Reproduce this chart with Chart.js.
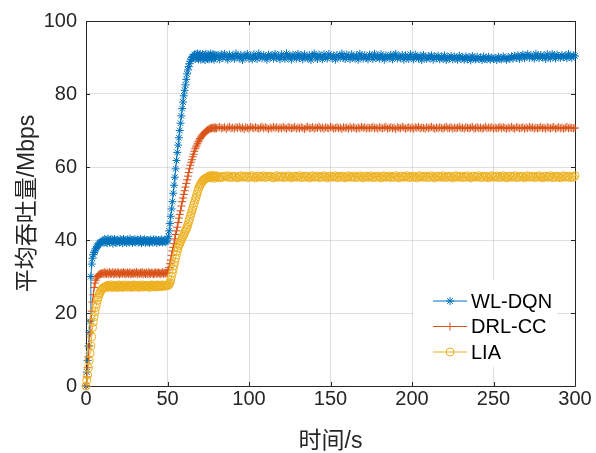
<!DOCTYPE html>
<html>
<head>
<meta charset="utf-8">
<script src="https://cdn.jsdelivr.net/npm/chart.js@4.4.1/dist/chart.umd.min.js"></script>
<style>
html,body{margin:0;padding:0;background:#fff;}
canvas{display:block;}
</style>
</head>
<body>
<canvas id="c" width="596" height="453"></canvas>
<script>
// ---- data ----
// early part: t = 0 .. 80 s, one sample every 0.5 s
// late part:  t = 81 .. 300 s, one sample every 1 s
const earlyStart = 0, earlyStep = 0.5;
const lateStart = 81, lateStep = 1;
const seriesNames = ['WL-DQN', 'DRL-CC', 'LIA'];
const xTickValues = [0, 50, 100, 150, 200, 250, 300];
const yTickValues = [0, 20, 40, 60, 80, 100];

const wlDqnEarly = [
0, 3.8, 7, 10.9, 14.7, 17.7, 30, 33.4, 35, 36, 36.6, 37, 37.6, 38, 38.3, 38.6, 39, 39.2, 39.4, 39.5, 39.6,
39.9, 39.2, 40.3, 39.5, 40.0, 39.1, 40.4, 39.7, 39.3, 40.1,
39.6, 40.2, 39.0, 39.8, 40.3, 39.4, 39.9, 39.2, 40.1, 39.7,
39.3, 40.2, 39.6, 39.9, 39.1, 40.3, 39.5, 39.8, 40.0, 39.2,
40.1, 39.6, 39.3, 40.4, 39.7, 39.9, 39.2, 40.0, 39.5, 40.2,
39.4, 39.8, 40.1, 39.3, 39.9, 39.6, 40.3, 39.1, 39.7, 40.0,
39.5, 40.2, 39.3, 39.8, 40.0, 39.4, 39.9, 39.2, 40.1, 39.6,
39.8, 39.3, 40.2, 39.5, 39.9, 40.1, 39.2, 39.7, 40.0, 39.4,
39.9, 39.5, 40.2, 39.3, 39.8, 39.6, 40.1, 39.4, 39.7, 40.0,
41, 42.5, 44.5, 46.5, 48.5, 50.5, 52.8, 55, 57.2, 59.5,
61.8, 64, 66, 68, 70, 72, 74, 76, 77.8, 79.5,
81, 82.5, 84, 85.5, 86.6, 87.5, 88.3, 89, 89.5, 90,
90.2, 90.3,
90.8, 89.6, 90.9, 89.9, 91.1, 89.5, 90.4, 91.0, 89.4, 90.3,
90.9, 89.8, 90.6, 89.3, 91.0, 90.1, 89.7, 90.8, 89.5, 90.5,
91.1, 89.6, 90.2, 90.9, 89.4, 90.7, 89.9, 90.5
];
const wlDqnLate = [
90.6, 89.5, 90.9, 89.9, 91.0, 90.2, 89.4, 90.8, 90.0, 90.5,
89.6, 91.1, 90.3, 89.8, 90.7, 89.3, 90.6, 90.1, 91.0, 89.7,
90.4, 89.5, 90.9, 90.0, 89.6, 91.1, 90.3, 89.8, 90.7, 90.2,
89.4, 90.8, 90.1, 90.6, 89.7, 91.0, 89.9, 90.4, 89.5, 90.9,
90.2, 89.6, 91.1, 90.0, 90.5, 89.4, 90.8, 90.3, 89.7, 91.0,
89.9, 90.6, 89.5, 90.9, 90.1, 89.8, 90.7, 89.3, 90.5, 91.1,
90.0, 89.6, 90.8, 90.3, 89.5, 90.9, 90.1, 89.7, 91.0, 90.4,
89.8, 90.6, 89.4, 90.7, 90.2, 89.9, 91.1, 90.0, 89.6, 90.8,
90.3, 89.5, 90.9, 90.1, 89.8, 90.6, 89.4, 91.0, 90.2, 89.7,
90.7, 90.0, 89.5, 90.8, 90.3, 89.6, 91.0, 89.9, 90.4, 89.7,
90.9, 90.1, 89.4, 90.6, 90.2, 89.8, 90.8, 89.5, 90.5, 91.0,
89.7, 90.3, 89.9, 90.7, 89.4, 90.6, 90.0, 89.6, 90.9, 90.2,
89.5, 90.8, 90.1, 89.7, 90.5, 89.3, 90.7, 90.0, 89.6, 90.4,
89.8, 90.6, 89.4, 90.3, 89.9, 90.5, 89.5, 90.2, 89.7, 90.6,
89.3, 90.1, 89.8, 90.4, 89.5, 90.2, 89.9, 89.4, 90.5, 89.7,
90.0, 89.4, 90.3, 89.6, 90.1, 89.2, 90.4, 89.8, 89.5, 90.2,
89.6, 90.0, 89.3, 90.3, 89.7, 89.5, 90.2, 89.4, 90.0, 89.6,
89.9, 89.3, 90.2, 89.7, 89.5, 90.3, 89.8, 89.4, 90.1, 89.6,
90.3, 89.7, 90.5, 89.9, 90.6, 89.6, 90.4, 90.8, 89.8, 90.5,
90.9, 89.9, 90.6, 90.2, 89.7, 91.0, 90.3, 89.8, 90.7, 90.1,
90.5, 89.6, 90.9, 90.2, 89.8, 91.0, 90.4, 89.7, 90.8, 90.3,
89.9, 90.7, 90.1, 90.5, 89.8, 91.0, 90.3, 89.9, 90.6, 90.4
];

const drlCcEarly = [
0, 2.5, 5, 8, 11, 14.5, 18, 20.5, 23, 25, 27, 28.2, 29, 29.6, 30, 30.3, 30.5, 30.7, 30.8, 30.7, 30.9,
31.0, 30.6, 31.2, 30.8, 30.7, 31.1, 30.9, 30.6, 31.2, 30.8,
30.7, 31.0, 31.2, 30.6, 30.9, 31.1, 30.7, 30.8, 31.2, 30.9,
30.6, 31.0, 30.8, 31.1, 30.7, 31.2, 30.9, 30.6, 31.0, 30.8,
31.1, 30.7, 30.9, 31.2, 30.6, 30.8, 31.0, 30.7, 31.1, 30.9,
30.8, 31.2, 30.6, 31.0, 30.9, 30.7, 31.1, 30.8, 31.2, 30.6,
30.9, 31.0, 30.7, 31.1, 30.8, 30.6, 31.2, 30.9, 30.7, 31.0,
31.1, 30.8, 30.6, 30.9, 31.2, 30.7, 31.0, 30.8, 31.1, 30.9,
30.6, 31.0, 30.8, 31.2, 30.7, 30.9, 31.1, 30.8, 31.0, 31.1,
31.8, 32.5, 33.5, 34.5, 35.8, 37, 38, 39, 40.3, 41.5,
42.5, 43.5, 44.8, 46, 47, 48, 49.3, 50.5, 51.5, 52.5,
53.5, 54.5, 55.5, 56.5, 57.5, 58.5, 59.5, 60.5, 61.3, 62,
62.8, 63.5, 64.3, 65, 65.5, 66, 66.5, 67, 67.4, 67.8,
68.2, 68.5, 68.8, 69, 69.3, 69.5, 69.7, 69.9, 70.1, 70.2,
70.4, 70.5, 70.6, 70.6, 70.7, 70.7,
70.9, 70.5, 70.8, 70.6
];
const drlCcLate = [
70.8, 71.0, 70.6, 70.7, 70.9, 70.4, 70.8, 71.0,
70.6, 70.8, 70.5, 70.9, 70.7, 71.0, 70.6, 70.8, 70.4, 70.9,
70.7, 70.5, 71.0, 70.8, 70.6, 70.9, 70.7, 70.5, 70.8, 71.0,
70.6, 70.9, 70.7, 70.4, 70.8, 70.6, 71.0, 70.7, 70.9, 70.5,
70.8, 70.6, 71.0, 70.7, 70.5, 70.9, 70.8, 70.6, 70.7, 71.0,
70.5, 70.8, 70.6, 70.9, 70.7, 70.4, 70.8, 71.0, 70.6, 70.7,
70.9, 70.5, 70.8, 70.7, 71.0, 70.6, 70.8, 70.5, 70.9, 70.7,
70.6, 71.0, 70.8, 70.5, 70.7, 70.9, 70.6, 70.8, 70.4, 70.9,
70.7, 70.8, 70.5, 71.0, 70.6, 70.9, 70.7, 70.5, 70.8, 70.6,
71.0, 70.7, 70.9, 70.5, 70.8, 70.6, 70.7, 71.0, 70.6, 70.8,
70.5, 70.9, 70.7, 70.6, 70.8, 71.0, 70.5, 70.7, 70.9, 70.6,
70.8, 70.4, 70.9, 70.7, 70.6, 71.0, 70.8, 70.5, 70.7, 70.9,
70.6, 70.8, 70.5, 70.9, 70.7, 71.0, 70.6, 70.8, 70.7, 70.5,
70.9, 70.6, 70.8, 71.0, 70.7, 70.5, 70.8, 70.6, 70.9, 70.7,
70.5, 70.8, 71.0, 70.6, 70.7, 70.9, 70.5, 70.8, 70.6, 70.7,
71.0, 70.6, 70.8, 70.5, 70.9, 70.7, 70.6, 70.8, 71.0, 70.5,
70.7, 70.9, 70.6, 70.8, 70.5, 70.7, 71.0, 70.6, 70.8, 70.7,
70.9, 70.5, 70.8, 70.6, 70.7, 71.0, 70.6, 70.9, 70.7, 70.5,
70.8, 70.6, 71.0, 70.7, 70.5, 70.9, 70.8, 70.6, 70.7, 70.9,
70.5, 70.8, 70.6, 71.0, 70.7, 70.9, 70.5, 70.8, 70.6, 70.7,
71.0, 70.6, 70.8, 70.5, 70.9, 70.7, 70.6, 70.8, 71.0, 70.5,
70.7, 70.9, 70.6, 70.8, 70.5, 70.7, 71.0, 70.6, 70.8, 70.7,
70.6, 70.7
];

const liaEarly = [
0, 1.5, 3, 5, 7, 9, 11, 13.5, 16, 17.5, 19, 20.3, 21.5, 22.5, 23.5, 24.3, 25, 25.5, 26, 26.3,
26.6, 26.8, 27, 27.1, 27.2,
27.4, 27.0, 27.6, 27.2, 27.5, 27.1, 27.7, 27.3, 27.0, 27.5,
27.2, 27.6, 27.3, 27.0, 27.4, 27.7, 27.1, 27.5, 27.3, 27.6,
27.0, 27.4, 27.2, 27.7, 27.3, 27.1, 27.5, 27.6, 27.2, 27.4,
27.0, 27.5, 27.3, 27.7, 27.1, 27.4, 27.6, 27.2, 27.5, 27.3,
27.0, 27.6, 27.4, 27.2, 27.7, 27.3, 27.1, 27.5, 27.4, 27.6,
27.2, 27.5, 27.3, 27.0, 27.6, 27.4, 27.7, 27.2, 27.5, 27.3,
27.1, 27.6, 27.4, 27.7, 27.3, 27.5, 27.2, 27.6, 27.4, 27.7,
27.3, 27.5, 27.6, 27.4, 27.7, 27.5, 27.6, 27.8,
28.3, 29, 30, 31, 32, 33, 34, 35, 36, 37,
37.8, 38.5, 39, 39.5, 40, 40.5, 41, 41.5, 42, 42.5,
43, 43.5, 44.2, 45, 45.7, 46.5, 47.2, 48, 48.7, 49.5,
50.2, 51, 51.7, 52.5, 53.3, 54, 54.5, 55, 55.4, 55.8,
56.1, 56.4, 56.6, 56.8, 56.9, 57, 57.1, 57.2,
57.5, 57.0, 57.6, 57.2, 57.7, 57.3, 56.9, 57.5, 57.2, 57.6
];
const liaLate = [
57.3, 57.0, 57.4, 57.2, 57.5,
57.3, 57.6, 57.1, 57.4, 57.2, 57.5, 57.3, 57.0, 57.4, 57.6,
57.2, 57.3, 57.5, 57.1, 57.4, 57.2, 57.6, 57.3, 57.0, 57.4,
57.5, 57.2, 57.3, 57.6, 57.1, 57.4, 57.3, 57.5, 57.2, 57.0,
57.4, 57.6, 57.2, 57.3, 57.5, 57.1, 57.4, 57.2, 57.6, 57.3,
57.0, 57.4, 57.5, 57.2, 57.3, 57.6, 57.1, 57.4, 57.2, 57.5,
57.3, 57.0, 57.4, 57.6, 57.2, 57.3, 57.5, 57.1, 57.4, 57.2,
57.6, 57.3, 57.0, 57.4, 57.5, 57.2, 57.3, 57.6, 57.1, 57.4,
57.2, 57.5, 57.3, 57.0, 57.4, 57.6, 57.2, 57.3, 57.5, 57.1,
57.4, 57.2, 57.6, 57.3, 57.0, 57.4, 57.5, 57.2, 57.3, 57.6,
57.1, 57.4, 57.2, 57.5, 57.3, 57.0, 57.4, 57.6, 57.2, 57.3,
57.5, 57.1, 57.4, 57.2, 57.6, 57.3, 57.0, 57.4, 57.5, 57.2,
57.3, 57.6, 57.1, 57.4, 57.2, 57.5, 57.3, 57.0, 57.4, 57.6,
57.2, 57.3, 57.5, 57.1, 57.4, 57.2, 57.6, 57.3, 57.0, 57.4,
57.5, 57.2, 57.3, 57.6, 57.1, 57.4, 57.2, 57.5, 57.3, 57.0,
57.4, 57.6, 57.2, 57.3, 57.5, 57.1, 57.4, 57.2, 57.6, 57.3,
57.0, 57.4, 57.5, 57.2, 57.3, 57.6, 57.1, 57.4, 57.2, 57.5,
57.3, 57.0, 57.4, 57.6, 57.2, 57.3, 57.5, 57.1, 57.4, 57.2,
57.6, 57.3, 57.0, 57.4, 57.5, 57.2, 57.3, 57.6, 57.1, 57.4,
57.2, 57.5, 57.3, 57.0, 57.4, 57.6, 57.2, 57.3, 57.5, 57.1,
57.4, 57.2, 57.6, 57.3, 57.0, 57.4, 57.5, 57.2, 57.3, 57.6,
57.1, 57.4, 57.2, 57.5, 57.3, 57.0, 57.4, 57.6, 57.2, 57.3,
57.5, 57.1, 57.4, 57.2, 57.6
];

// ---- styling ----
const colors = ['#0072BD', '#D95319', '#EDB120'];
const markers = ['star', 'cross', 'circle'];
const axisColor = '#262626';
const latinFont = "'Liberation Sans', Arial, 'Noto Sans CJK SC', sans-serif";

function toPoints(early, late) {
  const a = early.map((v, i) => ({ x: earlyStart + i * earlyStep, y: v }));
  const b = late.map((v, i) => ({ x: lateStart + i * lateStep, y: v }));
  return a.concat(b);
}

const seriesParts = [[wlDqnEarly, wlDqnLate], [drlCcEarly, drlCcLate], [liaEarly, liaLate]];
const datasets = seriesParts.map((p, k) => ({
  label: seriesNames[k],
  data: toPoints(p[0], p[1]),
  borderColor: colors[k],
  backgroundColor: 'rgba(0,0,0,0)',
  pointBorderColor: colors[k],
  pointBackgroundColor: 'rgba(0,0,0,0)',
  pointStyle: markers[k],
  pointRadius: 4,
  pointBorderWidth: 1,
  borderWidth: 1,
  tension: 0,
  clip: false,
  order: 2 - k
}));

const TICK_LEN = 4;

const boxPlugin = {
  id: 'boxPlugin',
  beforeDatasetsDraw(chart) {
    const { ctx, chartArea: a, scales } = chart;
    ctx.save();
    ctx.strokeStyle = axisColor;
    ctx.lineWidth = 1;
    ctx.beginPath();
    ctx.rect(Math.round(a.left) + 0.5, Math.round(a.top) + 0.5,
             Math.round(a.right - a.left), Math.round(a.bottom - a.top));
    ctx.stroke();
    ctx.beginPath();
    xTickValues.forEach(v => {
      const x = Math.round(scales.x.getPixelForValue(v)) + 0.5;
      ctx.moveTo(x, a.bottom); ctx.lineTo(x, a.bottom - TICK_LEN);
      ctx.moveTo(x, a.top); ctx.lineTo(x, a.top + TICK_LEN);
    });
    yTickValues.forEach(v => {
      const y = Math.round(scales.y.getPixelForValue(v)) + 0.5;
      ctx.moveTo(a.left, y); ctx.lineTo(a.left + TICK_LEN, y);
      ctx.moveTo(a.right, y); ctx.lineTo(a.right - TICK_LEN, y);
    });
    ctx.stroke();
    ctx.restore();
  },
  afterDatasetsDraw(chart) {
    const { ctx, chartArea: a } = chart;
    const w = 144, h = 87;
    const bx = a.right - 18 - w;
    const by = a.bottom - 19 - h;
    ctx.save();
    ctx.fillStyle = '#ffffff';
    ctx.fillRect(bx, by, w, h);
    ctx.font = '20px ' + latinFont;
    ctx.textBaseline = 'middle';
    ctx.textAlign = 'left';
    seriesNames.forEach((name, k) => {
      const cy = by + 21 + k * 25.5;
      const x0 = bx + 20, x1 = bx + 54;
      ctx.strokeStyle = colors[k];
      ctx.lineWidth = 1;
      ctx.beginPath();
      ctx.moveTo(x0, cy); ctx.lineTo(x1, cy);
      ctx.stroke();
      ctx.fillStyle = 'rgba(0,0,0,0)';
      ctx.strokeStyle = colors[k];
      Chart.helpers.drawPoint(ctx, {
        pointStyle: markers[k], radius: 4, rotation: 0, borderWidth: 1
      }, (x0 + x1) / 2, cy);
      ctx.fillStyle = '#000000';
      ctx.fillText(name, x1 + 4, cy + 1);
    });
    ctx.restore();
  }
};

new Chart(document.getElementById('c'), {
  type: 'line',
  data: { datasets },
  options: {
    responsive: false,
    animation: false,
    events: [],
    layout: { padding: { top: 18, right: 21, left: 0, bottom: 0 } },
    plugins: { legend: { display: false }, tooltip: { enabled: false } },
    scales: {
      x: {
        type: 'linear',
        min: 0, max: 300,
        afterFit(scale) { scale.height = 67; },
        afterBuildTicks(scale) { scale.ticks = xTickValues.map(v => ({ value: v })); },
        grid: { color: 'rgba(38,38,38,0.15)', drawTicks: false, lineWidth: 1 },
        border: { display: false },
        ticks: { color: axisColor, font: { size: 20, family: latinFont }, padding: 1, maxRotation: 0 },
        title: {
          display: true, text: '时间/s', color: axisColor,
          font: { size: 23, family: latinFont, lineHeight: 1.0 }, padding: { top: 0, bottom: 0 }
        }
      },
      y: {
        type: 'linear',
        min: 0, max: 100,
        afterFit(scale) { scale.width = 86; },
        afterBuildTicks(scale) { scale.ticks = yTickValues.map(v => ({ value: v })); },
        grid: { color: 'rgba(38,38,38,0.15)', drawTicks: false, lineWidth: 1 },
        border: { display: false },
        ticks: { color: axisColor, font: { size: 20, family: latinFont }, padding: 9 },
        title: {
          display: true, text: '平均吞吐量/Mbps', color: axisColor,
          font: { size: 23, family: latinFont }, padding: { top: 14, bottom: 0 }
        }
      }
    }
  },
  plugins: [boxPlugin]
});
</script>
</body>
</html>
